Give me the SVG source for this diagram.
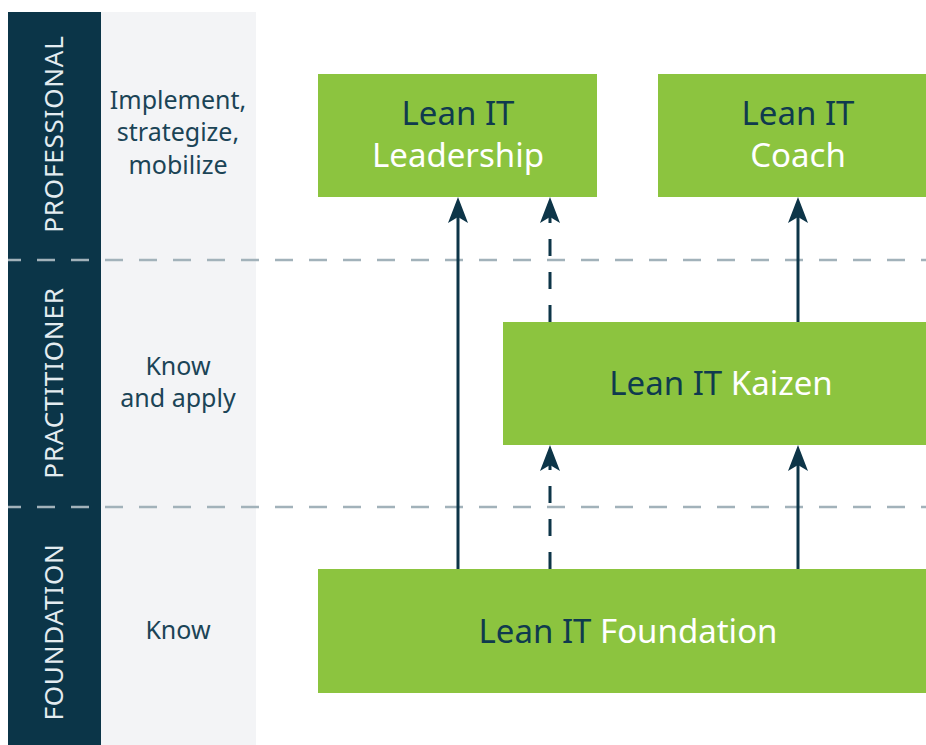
<svg xmlns="http://www.w3.org/2000/svg" width="926" height="745" viewBox="0 0 926 745">
<style>
.side{fill:#e4ecf0;font-family:"Noto Sans",sans-serif;font-size:26px;letter-spacing:0.8px;text-anchor:middle}
.desc{fill:#1b4456;font-family:"Noto Sans",sans-serif;font-size:25px;text-anchor:middle}
.box{fill:#8cc43f}
.t{font-family:"Noto Sans",sans-serif;font-size:33px;text-anchor:middle}
.d{fill:#0f3a4e}
.w{fill:#ffffff}
.sep{stroke:#a2b2ba;stroke-width:2.5;stroke-dasharray:18 16;stroke-dashoffset:5;fill:none}
.solid{stroke:#0d3548;stroke-width:3;fill:none}
.dash{stroke:#0d3548;stroke-width:3;fill:none;stroke-dasharray:17 16}
</style>
<defs>
<marker id="ah" viewBox="0 0 26 20" refX="8" refY="10" markerWidth="26" markerHeight="20" markerUnits="userSpaceOnUse" orient="auto">
<path d="M26 10 L0 0 L6 10 L0 20 Z" fill="#0d3548"/>
</marker>
</defs>
<rect width="926" height="745" fill="#ffffff"/>
<g id="sidebar">
<rect x="8" y="12" width="93" height="733" fill="#0b3548"/>
<rect x="101" y="12" width="155" height="733" fill="#f3f4f6"/>
</g>
<g id="separators">
<line class="sep" x1="8" y1="260" x2="940" y2="260"/>
<line class="sep" x1="8" y1="507" x2="940" y2="507"/>
</g>
<g id="level-professional">
<text class="side" transform="translate(63,134) rotate(-90)">PROFESSIONAL</text>
<text class="desc" x="178" y="109">Implement,</text>
<text class="desc" x="178" y="141">strategize,</text>
<text class="desc" x="178" y="174">mobilize</text>
</g>
<g id="level-practitioner">
<text class="side" transform="translate(63,383) rotate(-90)">PRACTITIONER</text>
<text class="desc" x="178" y="375">Know</text>
<text class="desc" x="178" y="407">and apply</text>
</g>
<g id="level-foundation">
<text class="side" transform="translate(63,632) rotate(-90)">FOUNDATION</text>
<text class="desc" x="178" y="639">Know</text>
</g>
<g id="connectors">
<line class="solid" x1="458" y1="569" x2="458" y2="215" marker-end="url(#ah)"/>
<line class="dash" x1="550" y1="322" x2="550" y2="215" marker-end="url(#ah)"/>
<line class="dash" x1="550" y1="569" x2="550" y2="463" marker-end="url(#ah)"/>
<line class="solid" x1="798" y1="322" x2="798" y2="215" marker-end="url(#ah)"/>
<line class="solid" x1="798" y1="569" x2="798" y2="463" marker-end="url(#ah)"/>
</g>
<g id="node-leadership">
<rect class="box" x="318" y="74" width="279" height="123"/>
<text class="t d" x="458" y="125">Lean IT</text>
<text class="t w" x="458" y="167">Leadership</text>
</g>
<g id="node-coach">
<rect class="box" x="658" y="74" width="268" height="123"/>
<text class="t d" x="798" y="125">Lean IT</text>
<text class="t w" x="798" y="167">Coach</text>
</g>
<g id="node-kaizen">
<rect class="box" x="503" y="322" width="423" height="123"/>
<text class="t" x="721" y="395"><tspan class="d">Lean IT </tspan><tspan class="w">Kaizen</tspan></text>
</g>
<g id="node-foundation">
<rect class="box" x="318" y="569" width="608" height="124"/>
<text class="t" x="628" y="643"><tspan class="d">Lean IT </tspan><tspan class="w">Foundation</tspan></text>
</g>
</svg>
